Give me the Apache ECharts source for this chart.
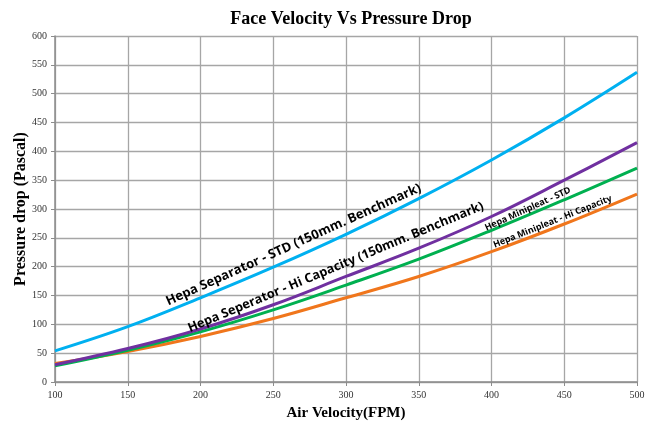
<!DOCTYPE html>
<html>
<head>
<meta charset="utf-8">
<script src="https://cdn.jsdelivr.net/npm/echarts@6/dist/echarts.min.js"></script>
<style>html,body{margin:0;padding:0;background:#fff}#c{width:654px;height:426px}</style>
</head>
<body>
<div id="c"></div>
<script>
var velocity = [100, 150, 200, 250, 300, 350, 400, 450, 500];
var sepStd = [54, 96, 146, 199, 256, 318, 385, 458, 537];
var sepHiCap = [30, 58, 92, 134, 183, 232, 287, 350, 415];
var miniStd = [28, 55, 87, 125, 168, 213, 263, 316, 371];
var miniHiCap = [32, 53, 79, 110, 146, 183, 226, 274, 326];
var seriesNames = ['Hepa Separator - STD (150mm. Benchmark)', 'Hepa Seperator - Hi Capacity (150mm. Benchmark)', 'Hepa Minipleat - STD', 'Hepa Minipleat - Hi Capacity'];

function pairs(ys){ return velocity.map(function(v,i){ return [v, ys[i]]; }); }

var chart = echarts.init(document.getElementById('c'));
var serif = '"Liberation Serif","DejaVu Serif",serif';
var labelFont = '"Open Sans","Liberation Sans",sans-serif';
function mk(name, data, color){
  return {name:name, type:'line', data:pairs(data), smooth:0.4, showSymbol:false, symbol:'none',
    lineStyle:{color:color, width:3}, itemStyle:{color:color}, z:3};
}
chart.setOption({
  animation:false,
  title:{text:'Face Velocity Vs Pressure Drop', left:346, textAlign:'center', top:5,
    textStyle:{fontFamily:serif, fontWeight:'bold', fontSize:18, color:'#000'}},
  grid:{left:55, right:17, top:36, bottom:40},
  xAxis:{type:'value', min:100, max:500, interval:50,
    name:'Air Velocity(FPM)', nameLocation:'middle', nameGap:24, nameMoveOverlap:false,
    nameTextStyle:{fontFamily:serif, fontWeight:'bold', fontSize:15, color:'#000'},
    axisLine:{show:true, lineStyle:{color:'#8c8c8c', width:1.5}},
    axisTick:{show:true, length:4, lineStyle:{color:'#8c8c8c'}},
    axisLabel:{fontFamily:serif, fontSize:10, color:'#333', margin:8},
    splitLine:{show:true, lineStyle:{color:'#a6a6a6', width:1.3}}},
  yAxis:{type:'value', min:0, max:600, interval:50,
    name:'Pressure drop (Pascal)', nameLocation:'middle', nameGap:26, nameMoveOverlap:false,
    nameTextStyle:{fontFamily:serif, fontWeight:'bold', fontSize:16, color:'#000'},
    axisLine:{show:true, lineStyle:{color:'#8c8c8c', width:1.5}},
    axisTick:{show:true, length:4, lineStyle:{color:'#8c8c8c'}},
    axisLabel:{fontFamily:serif, fontSize:10, color:'#333', margin:8},
    splitLine:{show:true, lineStyle:{color:'#a6a6a6', width:1.3}}},
  series:[
    mk(seriesNames[0], sepStd, '#00b0f0'),
    mk(seriesNames[3], miniHiCap, '#f0761c'),
    mk(seriesNames[2], miniStd, '#00b050'),
    mk(seriesNames[1], sepHiCap, '#7030a0')
  ]
});

// annotation labels positioned in data coordinates
var annots = [
  {text:seriesNames[0], at:[264, 238], rot:24.3, size:13},
  {text:seriesNames[1], at:[293, 199], rot:22.7, size:12.7},
  {text:seriesNames[2], at:[425, 300], rot:24.5, size:9},
  {text:seriesNames[3], at:[442, 278], rot:21.8, size:9}
];
var g = annots.map(function(a){
  var p = chart.convertToPixel({xAxisIndex:0, yAxisIndex:0}, a.at);
  return {type:'text', x:p[0], y:p[1], rotation:a.rot*Math.PI/180, z:10,
    style:{text:a.text, fill:'#000', fontFamily:labelFont, fontWeight:'bold', fontSize:a.size,
      align:'center', verticalAlign:'middle'}};
});
chart.setOption({graphic:g});
</script>
</body>
</html>
